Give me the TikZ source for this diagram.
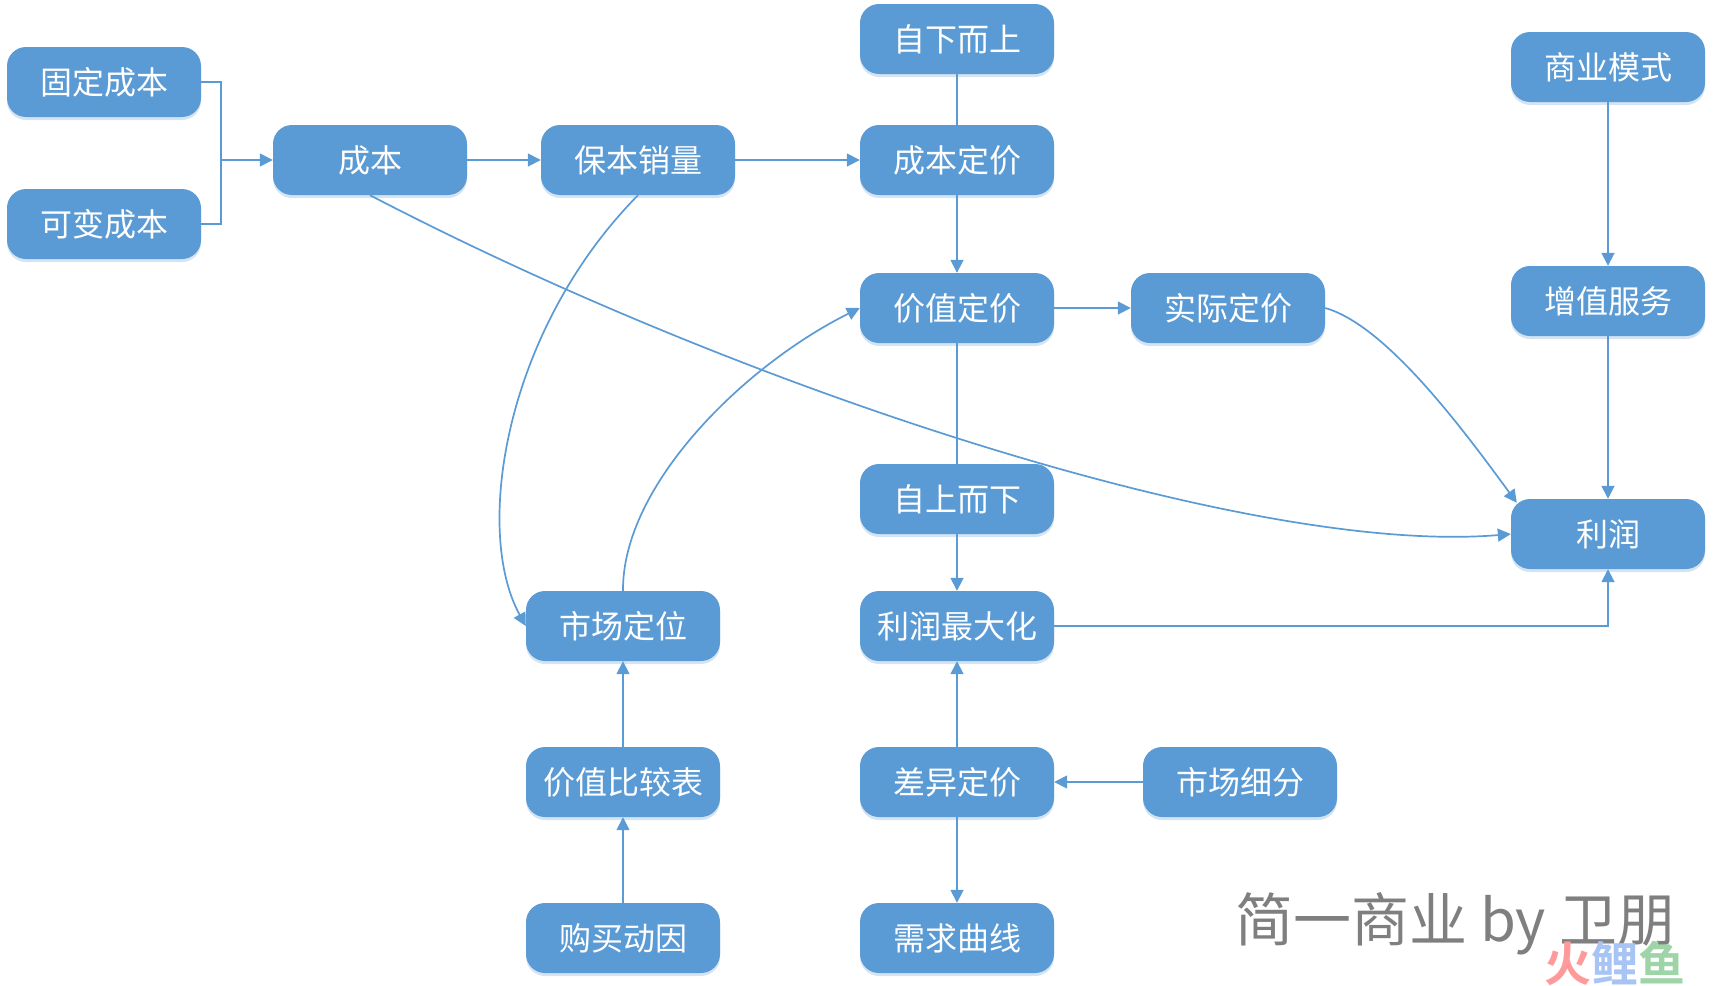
\documentclass[tikz,border=0pt]{standalone}
\usepackage{fontspec}
\setmainfont{Noto Sans CJK SC}
\newfontfamily\wmfont{Noto Sans CJK SC}
\newfontfamily\brandfont{Noto Sans CJK SC}[BoldFont={Noto Sans CJK SC Bold}]
\usetikzlibrary{arrows.meta,shadows}
\definecolor{boxblue}{HTML}{5B9BD5}
\definecolor{shadowblue}{HTML}{D5E4F3}
\definecolor{wmgray}{HTML}{7F7F7F}
\tikzset{
  box/.style={rectangle,rounded corners=19pt,fill=boxblue,text=white,minimum width=194pt,minimum height=70pt,inner sep=0pt,font=\fontsize{32}{36}\selectfont,drop shadow={shadow xshift=0pt,shadow yshift=-3pt,fill=shadowblue,opacity=1}},
  link/.style={draw=boxblue,line width=1.7pt},
  arr/.style={link,-{Triangle[length=13pt,width=13pt]}},
}
\begin{document}
\begin{tikzpicture}[x=1pt,y=-1pt]
\useasboundingbox (0,0) rectangle (1713,985);
\coordinate (mj) at (221,160);
\node[box] (gd) at (104,82) {固定成本};
\node[box] (kb) at (104,224) {可变成本};
\node[box] (cb) at (370,160) {成本};
\node[box] (bb) at (638,160) {保本销量};
\node[box] (zx) at (957,39) {自下而上};
\node[box] (cd) at (957,160) {成本定价};
\node[box] (jz) at (957,308) {价值定价};
\node[box] (sj) at (1228,308) {实际定价};
\node[box] (sy) at (1608,67) {商业模式};
\node[box] (zz) at (1608,301) {增值服务};
\node[box] (lr) at (1608,534) {利润};
\node[box] (zs) at (957,499) {自上而下};
\node[box] (lz) at (957,626) {利润最大化};
\node[box] (sc) at (623,626) {市场定位};
\node[box] (jb) at (623,782) {价值比较表};
\node[box] (cy) at (957,782) {差异定价};
\node[box] (xf) at (1240,782) {市场细分};
\node[box] (gm) at (623,938) {购买动因};
\node[box] (xq) at (957,938) {需求曲线};
\draw[link] (gd.east) -| (mj);
\draw[link] (kb.east) -| (mj);
\draw[arr] (mj) -- (cb.west);
\draw[arr] (cb) -- (bb);
\draw[arr] (bb) -- (cd);
\draw[link] (zx) -- (cd);
\draw[arr] (cd) -- (jz);
\draw[arr] (jz) -- (sj);
\draw[link] (jz) -- (zs);
\draw[arr] (zs) -- (lz);
\draw[arr] (sy) -- (zz);
\draw[arr] (zz) -- (lr);
\draw[arr] (cy) -- (lz);
\draw[arr] (xf) -- (cy);
\draw[arr] (cy) -- (xq);
\draw[arr] (jb) -- (sc);
\draw[arr] (gm) -- (jb);
\draw[arr] (lz.east) -| (lr.south);
\draw[arr] (cb.south) .. controls (740,388) and (1250,556) .. (lr.west);
\draw[arr] (bb.south) .. controls (505,330) and (473,530) .. (sc.west);
\draw[arr] (sc.north) .. controls (622,485) and (745,365) .. (jz.west);
\draw[arr] (sj.east) .. controls (1385,325) and (1460,425) .. ([xshift=6pt,yshift=-4pt]lr.north west);
\node[text=wmgray,anchor=west,font=\wmfont\fontsize{58}{64}\selectfont,inner sep=0pt] (wm) at (1235,924) {简一商业 by 卫朋};
\node[anchor=west,inner sep=0pt,font=\brandfont\bfseries\fontsize{47}{50}\selectfont] (hly) at (1544,963) {\textcolor[HTML]{FF9A9A}{火}\textcolor[HTML]{A8C4F5}{鲤}\textcolor[HTML]{9ED4A8}{鱼}};
\end{tikzpicture}
\end{document}
